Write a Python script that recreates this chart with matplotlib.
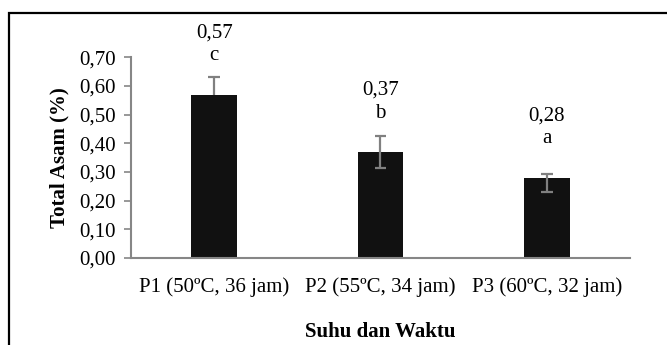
import matplotlib.pyplot as plt
from matplotlib.patches import Rectangle

plt.rcParams['font.family'] = ['Liberation Serif', 'DejaVu Serif']

categories = ['P1 (50ºC, 36 jam)', 'P2 (55ºC, 34 jam)', 'P3 (60ºC, 32 jam)']
total_asam = [0.57, 0.37, 0.28]
err_lower = [0.00, 0.055, 0.05]
err_upper = [0.06, 0.055, 0.012]
notasi = ['c', 'b', 'a']
yticks = [0.0, 0.1, 0.2, 0.3, 0.4, 0.5, 0.6, 0.7]

fig = plt.figure(figsize=(6.67, 3.45), dpi=100)
ax = fig.add_axes([0.1964, 0.2522, 0.7481, 0.5818])

x = list(range(len(categories)))
ax.bar(x, total_asam, width=0.275, color='#111111', zorder=2)

# error bars: stem plus caps, lower cap only where there is a lower error
ecol = '#808080'
cap = 0.036
lo = [v - e for v, e in zip(total_asam, err_lower)]
hi = [v + e for v, e in zip(total_asam, err_upper)]
ax.vlines(x, lo, hi, color=ecol, linewidth=1.6, zorder=3)
ax.hlines(hi, [i - cap for i in x], [i + cap for i in x], color=ecol, linewidth=1.6, zorder=3)
for i in x:
    if err_lower[i] > 0:
        ax.hlines(lo[i], i - cap, i + cap, color=ecol, linewidth=1.6, zorder=3)

for i, v in enumerate(total_asam):
    ax.text(i, v + 0.215, f'{v:.2f}'.replace('.', ','), ha='center', va='center',
            fontsize=15, clip_on=False)
    ax.text(i, v + 0.135, notasi[i], ha='center', va='center',
            fontsize=15, clip_on=False)

ax.set_xlim(-0.5, 2.5)
ax.set_ylim(0, 0.7)
ax.set_yticks(yticks)
ax.set_yticklabels([f'{t:.2f}'.replace('.', ',') for t in yticks], fontsize=15)
ax.set_xticks(x)
ax.set_xticklabels(categories, fontsize=15)
ax.tick_params(axis='x', length=0, pad=14)
ax.tick_params(axis='y', length=5, width=1.2, color='#868686', direction='out', pad=6)

for s in ['top', 'right']:
    ax.spines[s].set_visible(False)
for s in ['left', 'bottom']:
    ax.spines[s].set_color('#868686')
    ax.spines[s].set_linewidth(1.5)

ax.set_ylabel('Total Asam (%)', fontsize=15, fontweight='bold', labelpad=7)
ax.set_xlabel('Suhu dan Waktu', fontsize=15, fontweight='bold', labelpad=18)

# chart area frame
fig.patches.append(Rectangle((0.0135, -0.1), 1.1, 0.1 + 0.962, transform=fig.transFigure,
                             fill=False, edgecolor='black', linewidth=1.6))

fig.savefig('out.png', dpi=100)
